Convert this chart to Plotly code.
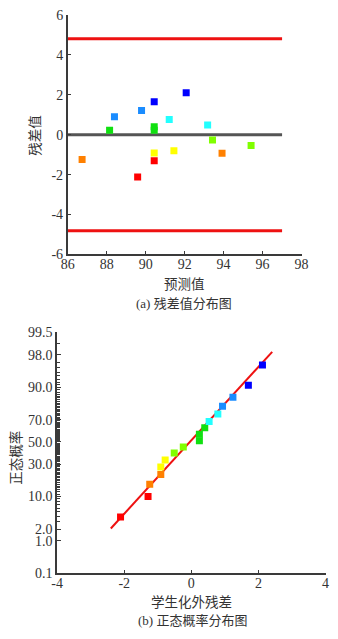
from statistics import NormalDist
import plotly.graph_objects as go

# (a) residuals vs. predicted values
pred = [86.74, 88.15, 88.40, 89.59, 89.79, 90.44, 90.44, 90.44, 90.44, 90.44,
        91.21, 91.45, 92.08, 93.18, 93.43, 93.92, 95.41]
resid = [-1.24, 0.23, 0.90, -2.12, 1.21, 1.65, 0.40, 0.23, -0.91, -1.30,
         0.76, -0.80, 2.11, 0.49, -0.26, -0.93, -0.54]
resid_colors = ["#ff8000", "#10e010", "#1a8cff", "#ff0000", "#1a8cff", "#0000ff",
                "#10e010", "#10e010", "#ffff00", "#ff0000", "#22ffff", "#ffff00",
                "#0000ff", "#22ffff", "#80ff00", "#ff8000", "#80ff00"]
limit = 4.82
line_x = [86, 97]

# (b) normal probability plot of externally studentized residuals
stud = [-2.11, -1.29, -1.24, -0.91, -0.91, -0.78, -0.51, -0.24, 0.24, 0.24,
        0.40, 0.53, 0.79, 0.93, 1.24, 1.70, 2.12]
prob = [3.9, 10.0, 16.0, 22.2, 27.8, 33.7, 39.7, 45.4, 51.2, 57.3,
        63.1, 68.6, 74.4, 80.0, 85.4, 90.9, 96.5]
prob_colors = ["#ff0000", "#ff0000", "#ff8000", "#ff8000", "#ffff00", "#ffff00",
               "#80ff00", "#80ff00", "#10e010", "#10e010", "#10e010", "#22ffff",
               "#22ffff", "#1a8cff", "#1a8cff", "#0000ff", "#0000ff"]
fit_x = [-2.40, 2.41]
fit_p = [2.1, 98.3]
prob_ticks = [0.1, 1.0, 2.0, 10.0, 30.0, 50.0, 70.0, 90.0, 98.0, 99.5]
prob_minor = [p for p in range(3, 98) if p not in (10, 30, 50, 70, 90)] + [99]

nd = NormalDist()


def z(p):
    return nd.inv_cdf(p / 100.0)


SERIF = "Liberation Serif, DejaVu Serif, serif"
CJK = "Noto Sans CJK SC"
MIXED = "Liberation Serif, Noto Sans CJK SC"
AX = "#3a3a3a"
TXT = "#333333"

fig = go.Figure()

# zero line and +/- limits
fig.add_trace(go.Scatter(x=line_x, y=[0, 0], mode="lines",
                         line=dict(color="#555555", width=3),
                         xaxis="x", yaxis="y", showlegend=False))
for lv in (limit, -limit):
    fig.add_trace(go.Scatter(x=line_x, y=[lv, lv], mode="lines",
                             line=dict(color="#ee1111", width=3),
                             xaxis="x", yaxis="y", showlegend=False))
fig.add_trace(go.Scatter(x=pred, y=resid, mode="markers",
                         marker=dict(symbol="square", size=7, color=resid_colors),
                         xaxis="x", yaxis="y", showlegend=False))

# fitted normal line and points
fig.add_trace(go.Scatter(x=fit_x, y=[z(p) for p in fit_p], mode="lines",
                         line=dict(color="#ee1111", width=2),
                         xaxis="x2", yaxis="y2", showlegend=False))
fig.add_trace(go.Scatter(x=stud, y=[z(p) for p in prob], mode="markers",
                         marker=dict(symbol="square", size=7, color=prob_colors),
                         xaxis="x2", yaxis="y2", showlegend=False))


def axis_style(standoff):
    return dict(showgrid=False, zeroline=False, showline=True, linecolor=AX,
                linewidth=1.5, ticks="inside", ticklen=4, tickcolor=AX,
                tickwidth=1, ticklabelstandoff=standoff,
                tickfont=dict(family=SERIF, size=14, color=TXT))


fig.update_layout(
    width=338, height=639,
    margin=dict(l=0, r=0, t=0, b=0),
    paper_bgcolor="white", plot_bgcolor="white",
    font=dict(family=SERIF),
    xaxis=dict(domain=[63.3 / 338, 307.3 / 338], anchor="y", range=[86, 98],
               tickvals=[86, 88, 90, 92, 94, 96, 98], **axis_style(-4)),
    yaxis=dict(domain=[(639 - 253.3) / 639, (639 - 8.3) / 639], anchor="x",
               range=[-6, 6], tickvals=[-6, -4, -2, 0, 2, 4, 6],
               ticktext=["-6", "-4", "-2", "0", "2", "4", "6"], **axis_style(0)),
    xaxis2=dict(domain=[52.3 / 338, 332.3 / 338], anchor="y2", range=[-4, 4],
                tickvals=[-4, -2, 0, 2, 4], ticktext=["-4", "-2", "0", "2", "4"],
                **axis_style(-4)),
    yaxis2=dict(domain=[(639 - 580) / 639, (639 - 333.3) / 639], anchor="x2",
                range=[z(0.1), z(99.5)],
                tickvals=[z(p) for p in prob_ticks],
                ticktext=[f"{p:.1f}" for p in prob_ticks],
                minor=dict(tickmode="array", tickvals=[z(p) for p in prob_minor],
                           ticks="inside", ticklen=3, tickcolor=AX, tickwidth=1),
                **axis_style(0)),
)

annotations = [
    dict(text="残差值", x=28 / 338, y=1 - 131 / 639, textangle=-90,
         font=dict(family=CJK, size=13.5, color=TXT)),
    dict(text="预测值", x=185 / 338, y=1 - 283 / 639,
         font=dict(family=CJK, size=13.5, color=TXT)),
    dict(text="(a) 残差值分布图", x=185 / 338, y=1 - 304 / 639,
         font=dict(family=MIXED, size=13, color=TXT)),
    dict(text="正态概率", x=8 / 338, y=1 - 462 / 639, textangle=-90,
         font=dict(family=CJK, size=13.5, color=TXT)),
    dict(text="学生化外残差", x=192 / 338, y=1 - 608 / 639,
         font=dict(family=CJK, size=13.5, color=TXT)),
    dict(text="(b) 正态概率分布图", x=193 / 338, y=1 - 628 / 639,
         font=dict(family=MIXED, size=13, color=TXT)),
]
for a in annotations:
    a.update(xref="paper", yref="paper", showarrow=False,
             xanchor="center", yanchor="middle")
fig.update_layout(annotations=annotations)

fig.write_html("out.html")
